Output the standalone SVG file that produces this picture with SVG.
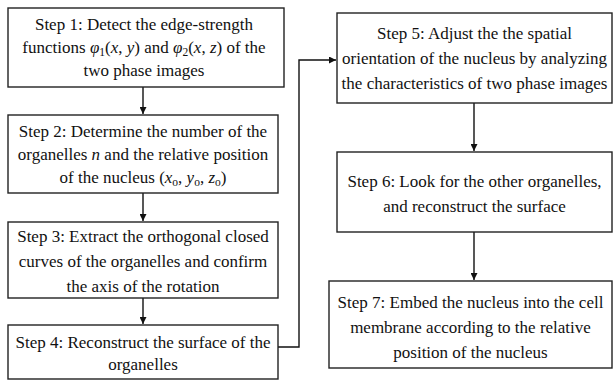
<svg xmlns="http://www.w3.org/2000/svg" width="613" height="380" viewBox="0 0 613 380">
<style>
.box{fill:#fff;stroke:#222;stroke-width:1.4}
.t{font-family:'Liberation Serif','DejaVu Serif',serif;font-size:17px;fill:#111;text-anchor:middle}
.i{font-style:italic}
.line{fill:none;stroke:#111;stroke-width:1.4}
</style>
<defs>
<marker id="ah" viewBox="0 0 10 10" refX="10" refY="5" markerWidth="7" markerHeight="7" markerUnits="userSpaceOnUse" orient="auto">
<path d="M0,0 L10,5 L0,10 Z" fill="#111"/>
</marker>
</defs>
<rect width="613" height="380" fill="#fff"/>
<g id="connectors">
<line class="line" x1="143" y1="87" x2="143" y2="114" marker-end="url(#ah)"/>
<line class="line" x1="143" y1="193" x2="143" y2="221" marker-end="url(#ah)"/>
<line class="line" x1="143" y1="298" x2="143" y2="324" marker-end="url(#ah)"/>
<polyline class="line" points="278,347 299,347 299,60 336,60" marker-end="url(#ah)"/>
<line class="line" x1="474" y1="103" x2="474" y2="151" marker-end="url(#ah)"/>
<line class="line" x1="474" y1="232" x2="474" y2="280" marker-end="url(#ah)"/>
</g>
<g id="step1">
<rect class="box" x="8" y="8" width="276" height="79"/>
<text class="t" x="144" y="30">Step 1: Detect the edge-strength</text>
<text class="t" x="144" y="53">functions <tspan class="i">φ</tspan><tspan font-size="11.5" dy="3">1</tspan><tspan dy="-3">(</tspan><tspan class="i">x</tspan>, <tspan class="i">y</tspan>) and <tspan class="i">φ</tspan><tspan font-size="11.5" dy="3">2</tspan><tspan dy="-3">(</tspan><tspan class="i">x</tspan>, <tspan class="i">z</tspan>) of the</text>
<text class="t" x="144" y="76">two phase images</text>
</g>
<g id="step2">
<rect class="box" x="8" y="115" width="270" height="78"/>
<text class="t" x="143" y="137">Step 2: Determine the number of the</text>
<text class="t" x="143" y="160">organelles <tspan class="i">n</tspan> and the relative position</text>
<text class="t" x="143" y="183">of the nucleus (<tspan class="i">x</tspan><tspan font-size="11.5" dy="3">o</tspan><tspan dy="-3">, </tspan><tspan class="i">y</tspan><tspan font-size="11.5" dy="3">o</tspan><tspan dy="-3">, </tspan><tspan class="i">z</tspan><tspan font-size="11.5" dy="3">o</tspan><tspan dy="-3">)</tspan></text>
</g>
<g id="step3">
<rect class="box" x="8" y="222" width="270" height="76"/>
<text class="t" x="143" y="242">Step 3: Extract the orthogonal closed</text>
<text class="t" x="143" y="267">curves of the organelles and confirm</text>
<text class="t" x="143" y="292">the axis of the rotation</text>
</g>
<g id="step4">
<rect class="box" x="8" y="325" width="270" height="54"/>
<text class="t" x="143" y="348">Step 4: Reconstruct the surface of the</text>
<text class="t" x="143" y="370">organelles</text>
</g>
<g id="step5">
<rect class="box" x="337" y="13" width="275" height="90"/>
<text class="t" x="474.5" y="39">Step 5: Adjust the the spatial</text>
<text class="t" x="474.5" y="64">orientation of the nucleus by analyzing</text>
<text class="t" x="474.5" y="89">the characteristics of two phase images</text>
</g>
<g id="step6">
<rect class="box" x="337" y="152" width="275" height="80"/>
<text class="t" x="474.5" y="187">Step 6: Look for the other organelles,</text>
<text class="t" x="474.5" y="212">and reconstruct the surface</text>
</g>
<g id="step7">
<rect class="box" x="329" y="281" width="283" height="87"/>
<text class="t" x="470.5" y="308">Step 7: Embed the nucleus into the cell</text>
<text class="t" x="470.5" y="333">membrane according to the relative</text>
<text class="t" x="470.5" y="358">position of the nucleus</text>
</g>
</svg>
